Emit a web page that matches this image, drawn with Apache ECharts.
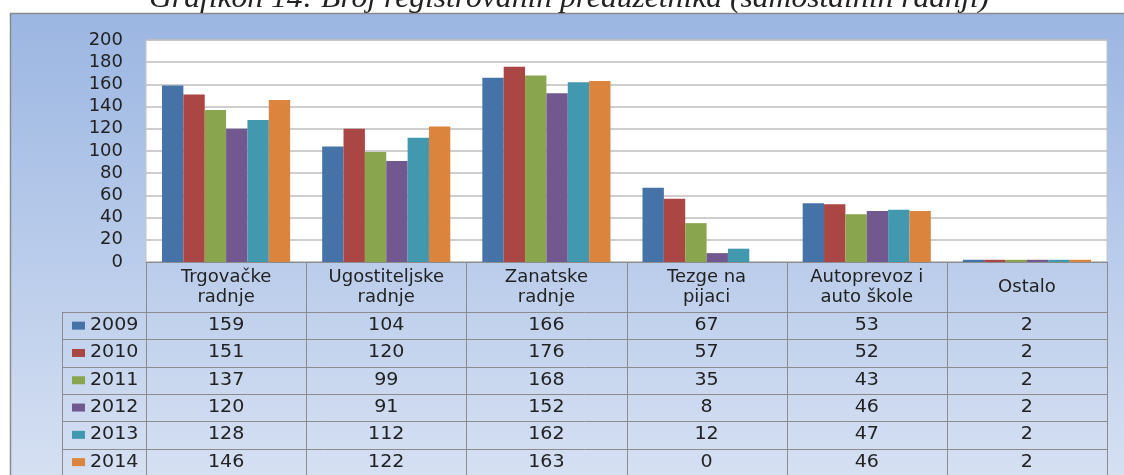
<!DOCTYPE html>
<html>
<head>
<meta charset="utf-8">
<script src="https://cdn.jsdelivr.net/npm/echarts@6/dist/echarts.min.js"></script>
<style>
html,body{margin:0;padding:0;background:#fff;}
#c{width:1124px;height:475px;}
</style>
</head>
<body>
<div id="c"></div>
<script>
const titleText = 'Grafikon 14: Broj registrovanih preduzetnika (samostalnih radnji)';
const categories = ['Trgovačke\nradnje', 'Ugostiteljske\nradnje', 'Zanatske\nradnje', 'Tezge na\npijaci', 'Autoprevoz i\nauto škole', 'Ostalo'];
const years = ['2009', '2010', '2011', '2012', '2013', '2014'];
const v2009 = [159, 104, 166, 67, 53, 2];
const v2010 = [151, 120, 176, 57, 52, 2];
const v2011 = [137, 99, 168, 35, 43, 2];
const v2012 = [120, 91, 152, 8, 46, 2];
const v2013 = [128, 112, 162, 12, 47, 2];
const v2014 = [146, 122, 163, 0, 46, 2];
const yMin = 0, yMax = 200, yStep = 20;

const seriesValues = [v2009, v2010, v2011, v2012, v2013, v2014];
const colors = ['#4572A7', '#AA4643', '#89A54E', '#71588F', '#4198AF', '#DB843D'];
const FONT = '"DejaVu Sans", sans-serif';
const TXT = '#222222';
const SX = 1.12;

const chart = echarts.init(document.getElementById('c'));

const G = { left: 146, right: 17, top: 40, bottom: 213 };
const W = 1124, H = 475;
const headerH = 50, rowH = 27.3, legendLeft = 62;

const option = {
  animation: false,
  color: colors,
  grid: { left: G.left, right: G.right, top: G.top, bottom: G.bottom, show: true, backgroundColor: '#ffffff', borderColor: '#C4C4C4', borderWidth: 1, containLabel: false },
  xAxis: {
    type: 'category',
    data: categories,
    axisTick: { show: false },
    axisLine: { show: true, lineStyle: { color: '#8C8C8C', width: 1 } },
    axisLabel: { color: TXT, fontFamily: FONT, fontSize: 18, lineHeight: 20, margin: 25, verticalAlign: 'middle', align: 'center', interval: 0 }
  },
  yAxis: {
    type: 'value', min: yMin, max: yMax, interval: yStep,
    axisLine: { show: false }, axisTick: { show: false },
    splitLine: { lineStyle: { color: '#BEBEBE', width: 1.5 } },
    axisLabel: { color: TXT, fontFamily: FONT, fontSize: 18, margin: 23 }
  },
  series: years.map((y, i) => ({
    name: y, type: 'bar', data: seriesValues[i],
    barGap: '0%', barCategoryGap: '20%',
    itemStyle: { color: colors[i] }
  }))
};
chart.setOption(option);

function txt(text, x, y, align, font, sx) {
  return {
    type: 'text', z: 6, silent: true, x: x, y: y, scaleX: sx,
    style: { text: text, x: 0, y: 0, font: font, fill: TXT, align: align, verticalAlign: 'middle' }
  };
}

function buildGraphic() {
  const els = [];
  const plotL = G.left, plotR = W - G.right, plotB = H - G.bottom;
  const catW = (plotR - plotL) / categories.length;
  const tableTop = plotB + headerH;
  const tableBot = tableTop + rowH * years.length;
  els.push({
    type: 'rect', z: -100, silent: true,
    shape: { x: 10.5, y: 13.5, width: W, height: H },
    style: {
      fill: new echarts.graphic.LinearGradient(0, 0, 0, 1, [
        { offset: 0, color: '#9BB6E2' },
        { offset: 1, color: '#D7E1F3' }
      ]),
      stroke: '#8A8A8A', lineWidth: 1.5
    }
  });
  els.push(txt(titleText, 569, -1, 'center', 'italic 29px "Liberation Serif", serif', 1.09));
  const lineStyle = { stroke: '#8C8C8C', lineWidth: 1 };
  for (let i = 0; i <= years.length; i++) {
    const y = Math.round(tableTop + i * rowH) + 0.5;
    els.push({ type: 'line', z: 5, silent: true, shape: { x1: legendLeft, y1: y, x2: plotR, y2: y }, style: lineStyle });
  }
  els.push({ type: 'line', z: 5, silent: true, shape: { x1: legendLeft + 0.5, y1: tableTop, x2: legendLeft + 0.5, y2: tableBot }, style: lineStyle });
  for (let k = 0; k <= categories.length; k++) {
    const x = Math.round(plotL + k * catW) + 0.5;
    els.push({ type: 'line', z: 5, silent: true, shape: { x1: x, y1: plotB, x2: x, y2: tableBot }, style: lineStyle });
  }
  years.forEach((yr, i) => {
    const cy = tableTop + (i + 0.5) * rowH;
    els.push({ type: 'rect', z: 6, silent: true, shape: { x: 72, y: cy - 4, width: 13, height: 8 }, style: { fill: colors[i] } });
    els.push(txt(yr, 90, cy, 'left', '17px ' + FONT, SX));
    categories.forEach((c, j) => {
      const cx = chart.convertToPixel({ xAxisIndex: 0 }, c);
      els.push(txt(String(seriesValues[i][j]), cx, cy, 'center', '17px ' + FONT, SX));
    });
  });
  return els;
}
chart.setOption({ graphic: { elements: buildGraphic() } });
</script>
</body>
</html>
